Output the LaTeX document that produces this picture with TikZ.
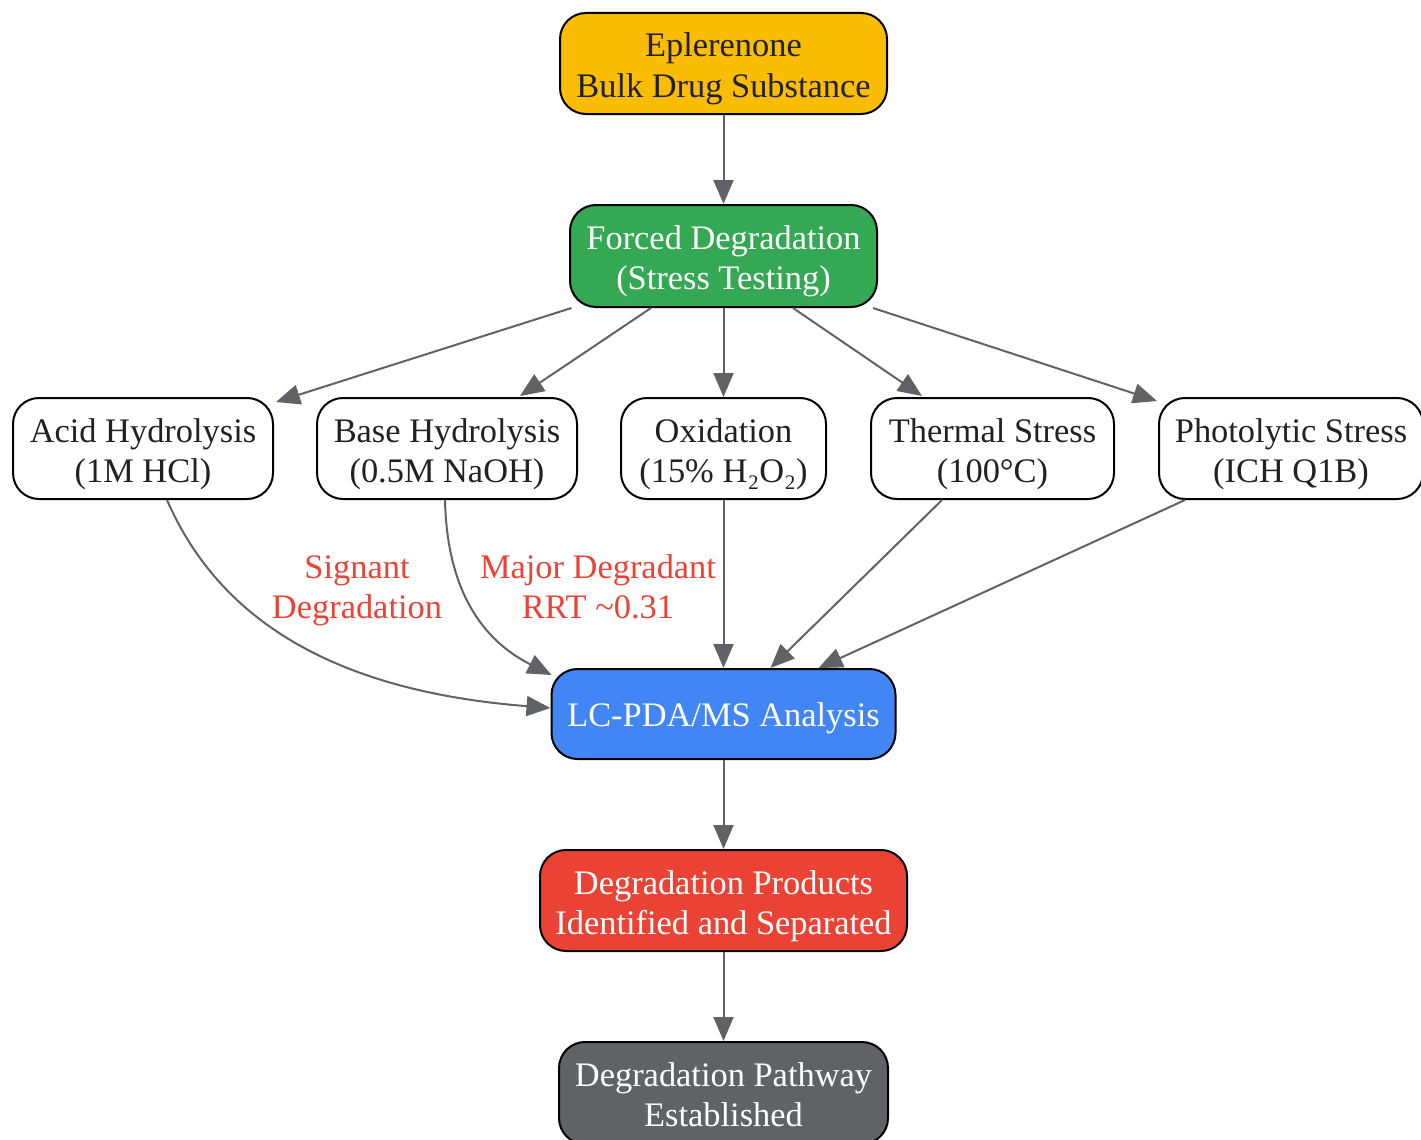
\documentclass[tikz,border=0pt]{standalone}
\usepackage{fontspec}
\setmainfont{Liberation Serif}
\usetikzlibrary{arrows.meta}
\definecolor{cyellow}{HTML}{FBBC04}
\definecolor{cgreen}{HTML}{34A853}
\definecolor{cblue}{HTML}{4285F4}
\definecolor{cred}{HTML}{EA4335}
\definecolor{cgray}{HTML}{5F6368}
\definecolor{ctext}{HTML}{202124}
\newcommand{\tstrut}{\rule{0pt}{36pt}}
\tikzset{
  enddepth/.style={execute at end node={\rule[-9pt]{0pt}{0pt}}},
  boxbase/.style={draw=black, line width=2pt, rounded corners=26pt, inner sep=0pt,
    align=center, font=\fontsize{34.4}{40}\selectfont, text=ctext, fill=white, enddepth},
  box/.style={boxbase},
  boxone/.style={boxbase, execute at begin node={\rule{0pt}{33pt}}},
  conn/.style={draw=cgray, line width=2pt, -{Triangle[length=24pt,width=20pt]}},
  elabel/.style={text=cred, align=center, font=\fontsize{34.4}{40}\selectfont, enddepth},
}
\begin{document}
\begin{tikzpicture}[x=1pt,y=-1pt]
\useasboundingbox (0,0) rectangle (1421,1140);
\node[box, fill=cyellow, minimum width=327pt, minimum height=101pt] (epl) at (723.5,63.5) {\tstrut Eplerenone\\Bulk Drug Substance};
\node[box, fill=cgreen, text=white, minimum width=307pt, minimum height=102pt] (forced) at (723.5,256) {\tstrut Forced Degradation\\(Stress Testing)};
\node[box, minimum width=260pt, minimum height=101pt] (acid) at (143,448.5) {\tstrut Acid Hydrolysis\\(1M HCl)};
\node[box, minimum width=260pt, minimum height=101pt] (base) at (447,448.5) {\tstrut Base Hydrolysis\\(0.5M NaOH)};
\node[box, minimum width=205pt, minimum height=101pt] (oxid) at (723.5,448.5) {\tstrut Oxidation\\(15\% H₂O₂)};
\node[box, minimum width=243pt, minimum height=101pt] (therm) at (992.5,448.5) {\tstrut Thermal Stress\\(100°C)};
\node[box, minimum width=264pt, minimum height=101pt] (photo) at (1291,448.5) {\tstrut Photolytic Stress\\(ICH Q1B)};
\node[boxone, fill=cblue, text=white, minimum width=344pt, minimum height=90pt] (lc) at (723.5,714) {LC-PDA/MS Analysis};
\node[box, fill=cred, text=white, minimum width=367pt, minimum height=101pt] (prod) at (723.5,900.5) {\tstrut Degradation Products\\Identified and Separated};
\node[box, fill=cgray, text=white, minimum width=329pt, minimum height=102pt] (path) at (723.5,1093) {\tstrut Degradation Pathway\\Established};

\node[elabel] (lab1) at (357,585) {\tstrut Signant\\Degradation};
\node[elabel] (lab2) at (598,585) {\tstrut Major Degradant\\RRT \textasciitilde0.31};

\draw[conn] (epl.south) -- (forced.north);
\draw[conn] ([xshift=-152pt]forced.south) -- ([xshift=2pt,yshift=-5pt]acid.north east);
\draw[conn] ([xshift=-72.5pt]forced.south) -- ([xshift=73pt,yshift=1pt]base.north);
\draw[conn] (forced.south) -- (oxid.north);
\draw[conn] ([xshift=69.5pt]forced.south) -- ([xshift=-70.5pt,yshift=1pt]therm.north);
\draw[conn] ([xshift=149.5pt]forced.south) -- ([xshift=-1pt,yshift=-4pt]photo.north west);

\draw[conn] ([xshift=24pt]acid.south) .. controls (215,610) and (320,690) .. ([yshift=6pt]lc.west);
\draw[conn] ([xshift=-2pt]base.south) .. controls (447,590) and (482,640) .. ([xshift=1pt,yshift=-7pt]lc.north west);
\draw[conn] (oxid.south) -- (lc.north);
\draw[conn] ([xshift=-50.5pt]therm.south) -- ([xshift=47pt]lc.north);
\draw[conn] ([xshift=-106pt]photo.south) -- ([xshift=95pt]lc.north);
\draw[conn] (lc.south) -- (prod.north);
\draw[conn] (prod.south) -- (path.north);
\end{tikzpicture}
\end{document}
